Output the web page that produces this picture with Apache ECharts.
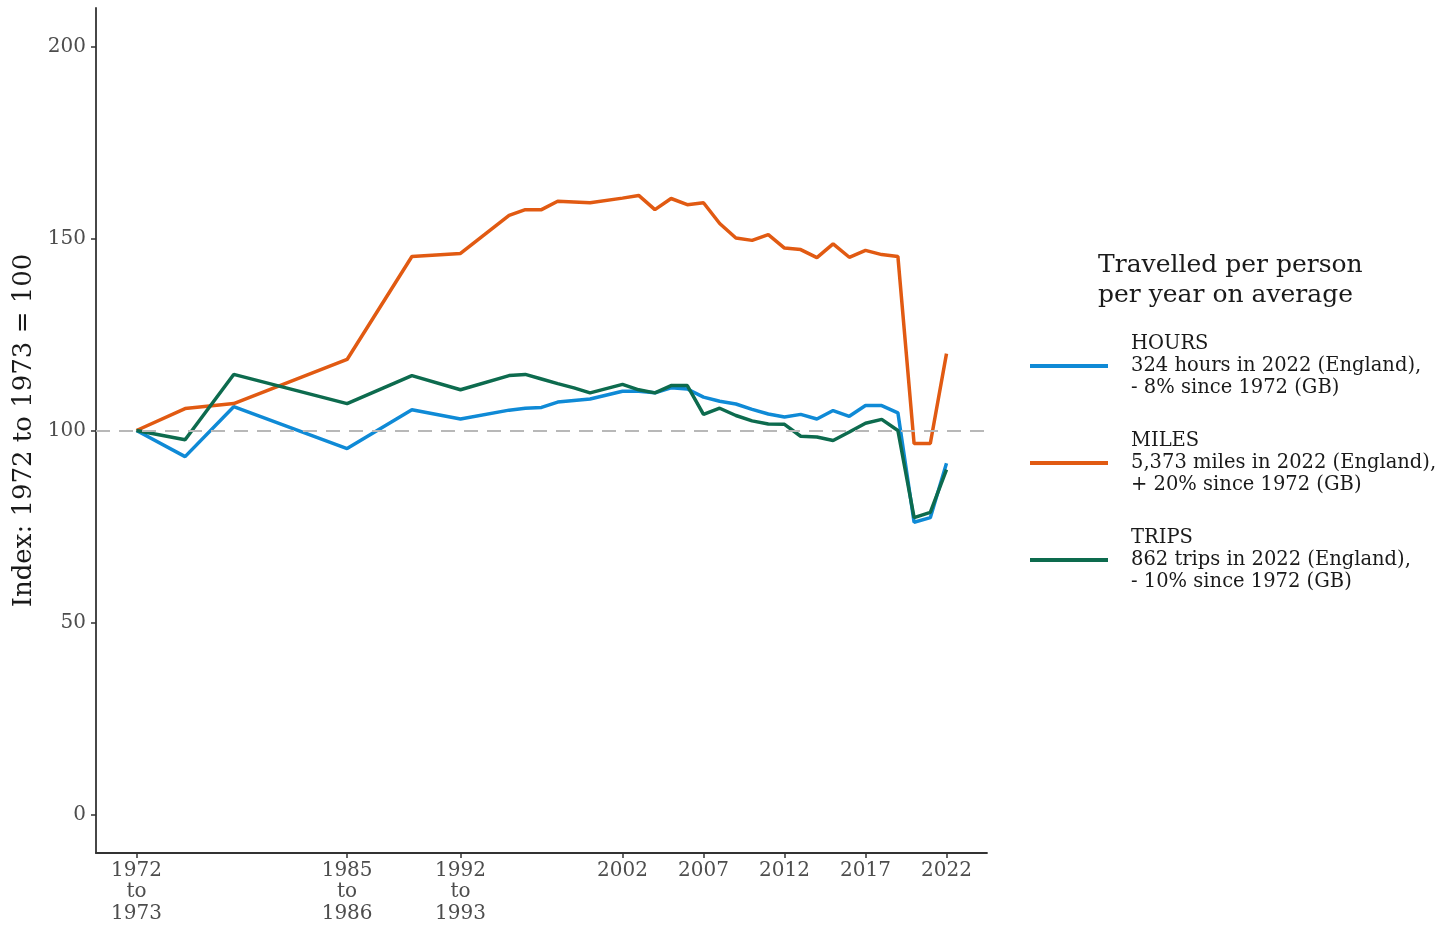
<!DOCTYPE html>
<html>
<head>
<meta charset="utf-8">
<title>Travelled per person per year</title>
<script src="https://cdn.jsdelivr.net/npm/echarts@6/dist/echarts.min.js"></script>
<style>
  html, body { margin: 0; padding: 0; background: #fff; }
  #chart { width: 1447px; height: 926px; }
</style>
</head>
<body>
<div id="chart"></div>
<script>
// survey years (plotted at the start year of each period)
const years = [1972, 1975, 1978, 1985, 1989, 1992, 1995, 1996, 1997, 1998, 1999, 2000,
  2002, 2003, 2004, 2005, 2006, 2007, 2008, 2009, 2010, 2011, 2012, 2013, 2014,
  2015, 2016, 2017, 2018, 2019, 2020, 2021, 2022]

const hours = [100, 93.2, 106.2, 95.3, 105.4, 103, 105.3, 105.8, 106, 107.4, 107.8, 108.2,
  110.2, 110.2, 109.8, 111.1, 110.8, 108.7, 107.6, 106.9, 105.5, 104.3, 103.5, 104.2, 103,
  105.2, 103.7, 106.5, 106.5, 104.6, 76.1, 77.3, 91.5]

const miles = [100, 105.7, 107, 118.5, 145.3, 146.1, 156, 157.5, 157.5, 159.7, 159.5, 159.3,
  160.5, 161.2, 157.5, 160.4, 158.8, 159.3, 153.9, 150.1, 149.5, 151, 147.5, 147.1, 145,
  148.6, 145.1, 146.9, 145.8, 145.3, 96.6, 96.6, 120]

const trips = [100, 97.6, 114.6, 107, 114.3, 110.6, 114.3, 114.6, 113.4, 112.2, 111.1, 109.8,
  112, 110.6, 109.8, 111.7, 111.7, 104.2, 105.8, 103.9, 102.5, 101.7, 101.6, 98.5, 98.3,
  97.4, 99.6, 101.9, 102.9, 100, 77.3, 78.7, 89.8]

const tickYears = [1972, 1985, 1992, 2002, 2007, 2012, 2017, 2022]
const tickLabels = ['1972\nto\n1973', '1985\nto\n1986', '1992\nto\n1993',
  '2002', '2007', '2012', '2017', '2022']
const yTicks = [0, 50, 100, 150, 200]

const seriesNames = ['HOURS', 'MILES', 'TRIPS']
const seriesNotes = [
  '324 hours in 2022 (England),\n- 8% since 1972 (GB)',
  '5,373 miles in 2022 (England),\n+ 20% since 1972 (GB)',
  '862 trips in 2022 (England),\n- 10% since 1972 (GB)'
]
const colors = ['#0f8ad6', '#e15a12', '#0d6b4e']

const font = 'DejaVu Serif'

function pairs(values) {
  return years.map((y, i) => [y, values[i]])
}

const chart = echarts.init(document.getElementById('chart'))

const lineSeries = [hours, miles, trips].map((values, i) => ({
  name: seriesNames[i],
  type: 'line',
  data: pairs(values),
  showSymbol: false,
  silent: true,
  z: 3,
  lineStyle: { color: colors[i], width: 3.5 },
  itemStyle: { color: colors[i] }
}))

chart.setOption({
  backgroundColor: '#fff',
  animation: false,
  color: colors,
  title: {
    text: 'Travelled per person\nper year on average',
    left: 1098,
    top: 250,
    padding: 0,
    textStyle: {
      fontFamily: font,
      fontSize: 25,
      lineHeight: 30,
      fontWeight: 'normal',
      color: '#1a1a1a'
    }
  },
  legend: {
    data: seriesNames,
    orient: 'vertical',
    left: 1030,
    top: 333,
    padding: 0,
    itemGap: 31,
    itemWidth: 78,
    itemHeight: 4,
    icon: 'rect',
    selectedMode: false,
    formatter: name => name + '\n' + seriesNotes[seriesNames.indexOf(name)],
    textStyle: {
      fontFamily: font,
      fontSize: 19.5,
      lineHeight: 22,
      color: '#1a1a1a',
      padding: [0, 0, 0, 18]
    }
  },
  grid: {
    left: 96,
    right: 460,
    top: 8,
    bottom: 73,
    containLabel: false,
    outerBoundsMode: 'none'
  },
  xAxis: {
    type: 'value',
    min: 1969.5,
    max: 2024.5,
    splitLine: { show: false },
    axisLine: { onZero: false, lineStyle: { color: '#333', width: 1.8 } },
    axisTick: {
      show: true,
      length: 5,
      customValues: tickYears,
      lineStyle: { color: '#333', width: 1.5 }
    },
    axisLabel: {
      customValues: tickYears,
      margin: 7,
      fontFamily: font,
      fontSize: 20,
      lineHeight: 21.5,
      color: '#4d4d4d',
      formatter: v => tickLabels[tickYears.indexOf(Math.round(v))] || ''
    }
  },
  yAxis: {
    type: 'value',
    min: -10,
    max: 210,
    name: 'Index: 1972 to 1973 = 100',
    nameLocation: 'middle',
    nameRotate: 90,
    nameGap: 55,
    nameTextStyle: {
      fontFamily: font,
      fontSize: 26,
      color: '#1a1a1a'
    },
    splitLine: { show: false },
    axisLine: { show: true, onZero: false, lineStyle: { color: '#333', width: 1.8 } },
    axisTick: {
      show: true,
      length: 5,
      customValues: yTicks,
      lineStyle: { color: '#333', width: 1.5 }
    },
    axisLabel: {
      customValues: yTicks,
      margin: 10,
      fontFamily: font,
      fontSize: 20,
      color: '#4d4d4d'
    }
  },
  series: [
    {
      name: 'reference',
      type: 'line',
      data: [],
      z: 1,
      markLine: {
        silent: true,
        symbol: ['none', 'none'],
        label: { show: false },
        lineStyle: { color: '#b8b8b8', type: [14, 9], width: 2 },
        data: [{ yAxis: 100 }]
      }
    }
  ].concat(lineSeries)
})
</script>
</body>
</html>
